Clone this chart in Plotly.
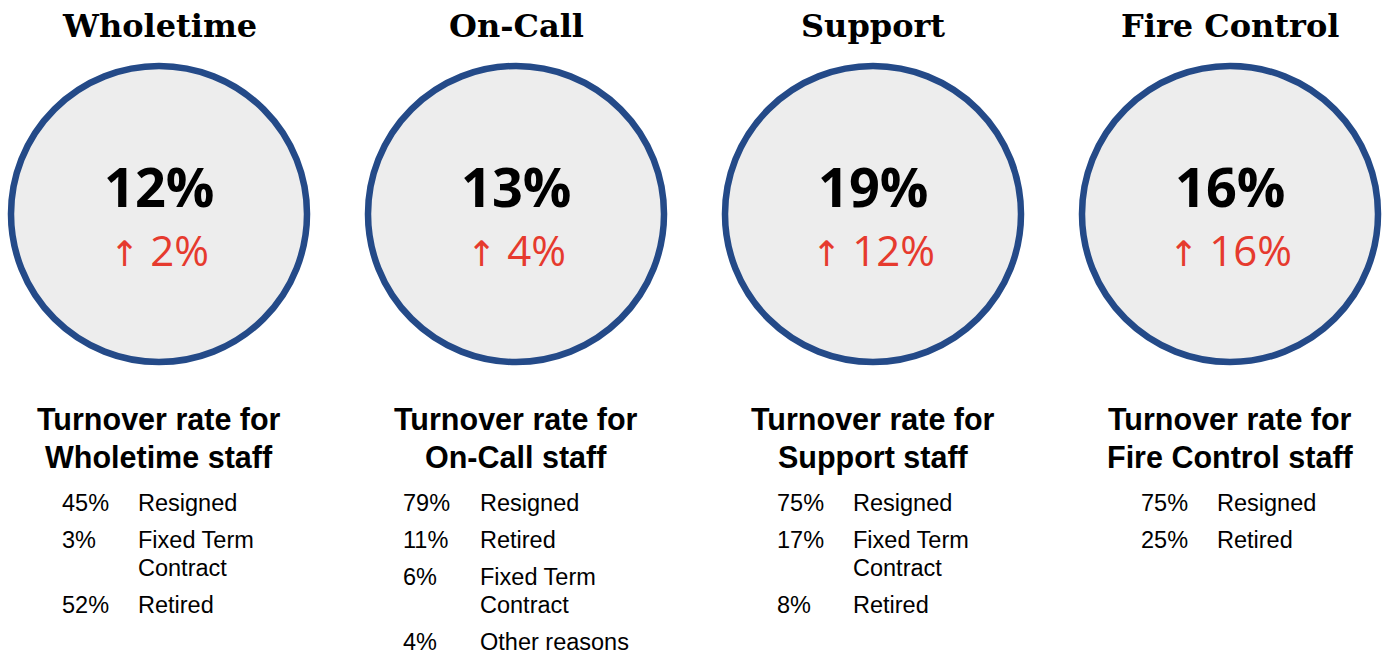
import plotly.graph_objects as go

# ---- data ----
groups = ["Wholetime", "On-Call", "Support", "Fire Control"]
rates = [12, 13, 19, 16]
changes = [2, 4, 12, 16]
reason_pcts = [
    [45, 3, 52],
    [79, 11, 6, 4],
    [75, 17, 8],
    [75, 25],
]
reason_labels = [
    ["Resigned", "Fixed Term<br>Contract", "Retired"],
    ["Resigned", "Retired", "Fixed Term<br>Contract", "Other reasons"],
    ["Resigned", "Fixed Term<br>Contract", "Retired"],
    ["Resigned", "Retired"],
]

# ---- layout constants ----
W, H = 1389, 655
centers = [159, 516, 873, 1230]
cy = 214
R = 148
pct_x = [60, 401, 775, 1139]
lab_x = [136, 478, 851, 1215]
RING = "#244a88"
FILL = "#ededed"
RED = "#e63a2e"

fig = go.Figure()
shapes = []
ann = []

for i, g in enumerate(groups):
    cx = centers[i]
    shapes.append(dict(type="circle", xref="x", yref="y",
                       x0=cx - R, x1=cx + R, y0=cy - R, y1=cy + R,
                       fillcolor=FILL, line=dict(color=RING, width=6.5), layer="below"))
    ann.append(dict(x=cx, y=26, text=f"<b>{g}</b>", showarrow=False,
                    xanchor="center", yanchor="middle",
                    font=dict(family="DejaVu Serif", size=32, color="#000")))
    ann.append(dict(x=cx, y=186, text=f"<b>{rates[i]}%</b>", showarrow=False,
                    xanchor="center", yanchor="middle",
                    font=dict(family="Open Sans", size=54, color="#000")))
    ann.append(dict(x=cx, y=249,
                    text=f"<span style='font-family:DejaVu Sans;font-size:35px'>↑</span> {changes[i]}%",
                    showarrow=False, xanchor="center", yanchor="middle",
                    font=dict(family="Open Sans", size=42, color=RED)))
    ann.append(dict(x=cx, y=419, text="<b>Turnover rate for</b>", showarrow=False,
                    xanchor="center", yanchor="middle",
                    font=dict(family="Liberation Sans", size=30.5, color="#000")))
    ann.append(dict(x=cx, y=457, text=f"<b>{g} staff</b>", showarrow=False,
                    xanchor="center", yanchor="middle",
                    font=dict(family="Liberation Sans", size=30.5, color="#000")))
    y = 503
    for p, lab in zip(reason_pcts[i], reason_labels[i]):
        ann.append(dict(x=pct_x[i], y=y, text=f"{p}%", showarrow=False,
                        xanchor="left", yanchor="middle",
                        font=dict(family="Liberation Sans", size=23.5, color="#000")))
        lines = lab.split("<br>")
        for k, line in enumerate(lines):
            ann.append(dict(x=lab_x[i], y=y + 28 * k, text=line, showarrow=False,
                            xanchor="left", yanchor="middle",
                            font=dict(family="Liberation Sans", size=23.5, color="#000")))
        y += 37 + 28 * (len(lines) - 1)

fig.update_layout(
    width=W, height=H,
    margin=dict(l=0, r=0, t=0, b=0),
    paper_bgcolor="white", plot_bgcolor="white",
    xaxis=dict(range=[0, W], visible=False, fixedrange=True),
    yaxis=dict(range=[H, 0], visible=False, fixedrange=True),
    shapes=shapes, annotations=ann, showlegend=False,
)
fig.write_html("out.html", config={"displayModeBar": False},
               post_script="document.body.style.margin='0';document.body.style.overflow='hidden';")
